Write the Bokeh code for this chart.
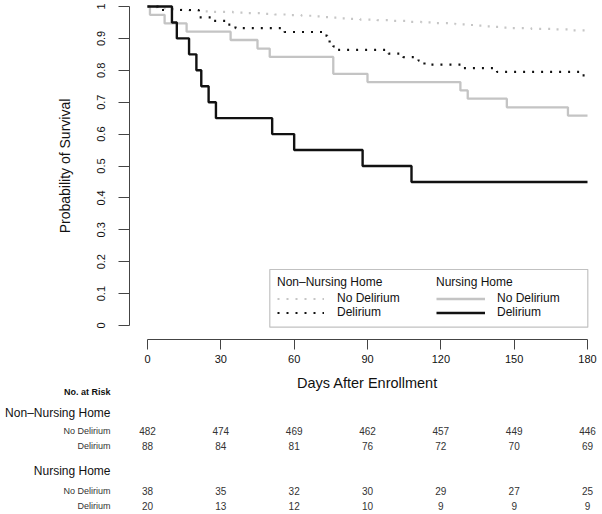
from bokeh.plotting import figure
from bokeh.models import (Range1d, FixedTicker, Legend, LegendItem, BoxAnnotation,
                          ColumnDataSource)
from bokeh.core.properties import value
from bokeh.embed import file_html
from bokeh.resources import INLINE

# ---------------- data ----------------
# Kaplan-Meier step curves (day, survival)
nh_del_t = [0, 10, 12, 17, 20, 22, 25, 28, 51, 60, 88, 108, 180]
nh_del_s = [1.0, 0.95, 0.90, 0.85, 0.80, 0.75, 0.70, 0.65, 0.60, 0.55, 0.50, 0.45, 0.45]

nh_nodel_t = [0, 1, 7, 16, 34, 45, 50, 76, 90, 128, 131, 147, 172, 180]
nh_nodel_s = [1.0, 0.974, 0.947, 0.921, 0.895, 0.868, 0.842, 0.789, 0.763, 0.737, 0.711,
              0.684, 0.658, 0.658]

nnh_del_t = [0, 5, 21, 27, 33, 36, 56, 72.8, 73.5, 74.5, 76, 77.5, 98.6, 104.6, 110.9,
             113.3, 128.5, 143, 177.8, 180]
nnh_del_s = [1.0, 0.989, 0.966, 0.955, 0.943, 0.932, 0.920, 0.909, 0.898, 0.886, 0.875,
             0.864, 0.852, 0.841, 0.830, 0.818, 0.807, 0.795, 0.784, 0.784]

nnh_nodel_t = [0, 2, 4, 6, 9, 13, 17, 22, 27, 35, 41, 47, 52, 58, 63, 67, 71, 75, 79, 83,
               87, 94, 100, 106, 112, 117, 123, 126, 130, 134, 138, 141, 145, 148, 157,
               166, 174, 180]
nnh_nodel_s = [1.0, 0.998, 0.996, 0.994, 0.992, 0.990, 0.988, 0.985, 0.983, 0.981, 0.979,
               0.977, 0.975, 0.973, 0.971, 0.969, 0.967, 0.965, 0.963, 0.961, 0.959, 0.957,
               0.955, 0.952, 0.950, 0.948, 0.946, 0.944, 0.942, 0.940, 0.938, 0.936,
               0.934, 0.932, 0.930, 0.928, 0.925, 0.925]

x_ticks = [0, 30, 60, 90, 120, 150, 180]
y_ticks = [0, 0.1, 0.2, 0.3, 0.4, 0.5, 0.6, 0.7, 0.8, 0.9, 1.0]
y_tick_labels = ["0", "0.1", "0.2", "0.3", "0.4", "0.5", "0.6", "0.7", "0.8", "0.9", "1"]

risk_days = [0, 30, 60, 90, 120, 150, 180]
risk_nnh_nodel = [482, 474, 469, 462, 457, 449, 446]
risk_nnh_del = [88, 84, 81, 76, 72, 70, 69]
risk_nh_nodel = [38, 35, 32, 30, 29, 27, 25]
risk_nh_del = [20, 13, 12, 10, 9, 9, 9]

group_names = ["Non\u2013Nursing Home", "Nursing Home"]
status_names = ["No Delirium", "Delirium"]
risk_title = "No. at Risk"

# ---------------- styling / layout ----------------
FONT = "Liberation Sans"
W, H = 602, 514
XPX = 440.0 / 180.0       # px per day
YPX = 319.0               # px per unit survival
X0_PX = 147.0             # canvas x of day 0
Y0_PX = 325.0             # canvas y of survival 0


def px_to_day(px):
    return (px - X0_PX) / XPX


def px_to_surv(py):
    return (Y0_PX - py) / YPX


BLACK = "#111111"
AXIS = "#444444"
GRAY = "#c4c4c4"
GRAY_DOT = "#c6c6c6"

p = figure(width=W, height=H, output_backend="svg", toolbar_location=None,
           x_range=Range1d(px_to_day(0), px_to_day(W)),
           y_range=Range1d(px_to_surv(H), px_to_surv(0)),
           min_border=0, min_border_left=0, min_border_right=0, min_border_top=0,
           min_border_bottom=0, tools="")
p.outline_line_color = None
p.xgrid.visible = False
p.ygrid.visible = False
p.background_fill_color = "white"
p.border_fill_color = "white"

# curves
r_nnh_nodel = p.step(nnh_nodel_t, nnh_nodel_s, mode="after", line_color=GRAY_DOT,
                     line_width=2.2, line_dash="2 7")
r_nnh_del = p.step(nnh_del_t, nnh_del_s, mode="after", line_color=BLACK,
                   line_width=2.2, line_dash="2 7")
r_nh_nodel = p.step(nh_nodel_t, nh_nodel_s, mode="after", line_color=GRAY, line_width=2.3)
r_nh_del = p.step(nh_del_t, nh_del_s, mode="after", line_color=BLACK, line_width=2.4)

# axes (drawn at fixed positions inside a full-canvas frame)
xa = p.xaxis[0]
xa.fixed_location = px_to_surv(339.3)
xa.ticker = FixedTicker(ticks=x_ticks)
xa.bounds = (x_ticks[0], x_ticks[-1])
xa.axis_label = "Days After Enrollment"
xa.axis_label_text_font = FONT
xa.axis_label_text_font_size = "14.5px"
xa.axis_label_text_font_style = "normal"
xa.axis_label_text_color = BLACK
xa.axis_label_standoff = 9
xa.major_label_text_font = FONT
xa.major_label_text_font_size = "11px"
xa.major_label_text_color = BLACK
xa.major_label_standoff = 5
xa.major_tick_out = 10
xa.major_tick_in = 0
xa.minor_tick_out = 0
xa.minor_tick_in = 0
xa.axis_line_color = AXIS
xa.major_tick_line_color = AXIS

ya = p.yaxis[0]
ya.fixed_location = px_to_day(129.4)
ya.ticker = FixedTicker(ticks=y_ticks)
ya.bounds = (y_ticks[0], y_ticks[-1])
ya.major_label_overrides = {t: s for t, s in zip(y_ticks, y_tick_labels)}
ya.major_label_orientation = "vertical"
ya.axis_label = "Probability of Survival"
ya.axis_label_text_font = FONT
ya.axis_label_text_font_size = "14px"
ya.axis_label_text_font_style = "normal"
ya.axis_label_text_color = BLACK
ya.axis_label_standoff = 21
ya.major_label_text_font = FONT
ya.major_label_text_font_size = "11px"
ya.major_label_text_color = BLACK
ya.major_label_standoff = 14
ya.major_tick_out = 11
ya.major_tick_in = 0
ya.minor_tick_out = 0
ya.minor_tick_in = 0
ya.axis_line_color = AXIS
ya.major_tick_line_color = AXIS

# legend box + two legends
box = BoxAnnotation(left=px_to_day(269.3), right=px_to_day(587.3),
                    top=px_to_surv(269.0), bottom=px_to_surv(326.7),
                    fill_alpha=0, line_color="#333333", line_width=1.2)
p.add_layout(box)


def make_legend(title, items, loc, glyph_w, standoff):
    return Legend(items=items, location=loc, title=title,
                  title_text_font=FONT, title_text_font_size="12px",
                  title_text_font_style="normal", title_text_color=BLACK,
                  title_standoff=2,
                  label_text_font=FONT, label_text_font_size="12px",
                  label_text_color=BLACK,
                  glyph_width=glyph_w, glyph_height=11, label_height=11,
                  label_standoff=standoff, spacing=0, padding=0, margin=0,
                  border_line_color=None, background_fill_alpha=0)


leg1 = make_legend(group_names[0],
                   [LegendItem(label=status_names[0], renderers=[r_nnh_nodel]),
                    LegendItem(label=status_names[1], renderers=[r_nnh_del])],
                   (277, H - 319), 47, 13)
leg2 = make_legend(group_names[1],
                   [LegendItem(label=status_names[0], renderers=[r_nh_nodel]),
                    LegendItem(label=status_names[1], renderers=[r_nh_del])],
                   (436, H - 319), 49, 12)
p.add_layout(leg1, "center")
p.add_layout(leg2, "center")

# ---------------- number-at-risk table ----------------
row_y = {"risk": px_to_surv(391), "h1": px_to_surv(412), "r1": px_to_surv(430),
         "r2": px_to_surv(445), "h2": px_to_surv(470), "r3": px_to_surv(490),
         "r4": px_to_surv(505.7)}
label_day = px_to_day(110)

p.text(x=[label_day], y=[row_y["risk"]], text=[risk_title], text_align="right",
       text_baseline="middle", text_font=value(FONT), text_font_size="9px",
       text_font_style="bold", text_color=BLACK)
p.text(x=[label_day, label_day], y=[row_y["h1"], row_y["h2"]], text=group_names,
       text_align="right", text_baseline="middle", text_font=value(FONT),
       text_font_size="12px", text_color=BLACK)

rows = [("r1", status_names[0], risk_nnh_nodel), ("r2", status_names[1], risk_nnh_del),
        ("r3", status_names[0], risk_nh_nodel), ("r4", status_names[1], risk_nh_del)]
for key, name, vals in rows:
    p.text(x=[label_day], y=[row_y[key]], text=[name], text_align="right",
           text_baseline="middle", text_font=value(FONT), text_font_size="9px",
           text_color="#333333")
    src = ColumnDataSource(dict(x=risk_days, y=[row_y[key]] * len(risk_days),
                                t=[str(v) for v in vals]))
    p.text(x="x", y="y", text="t", source=src, text_align="center",
           text_baseline="middle", text_font=value(FONT), text_font_size="10px",
           text_color="#333333")

open("out.html", "w").write(file_html(p, INLINE))
